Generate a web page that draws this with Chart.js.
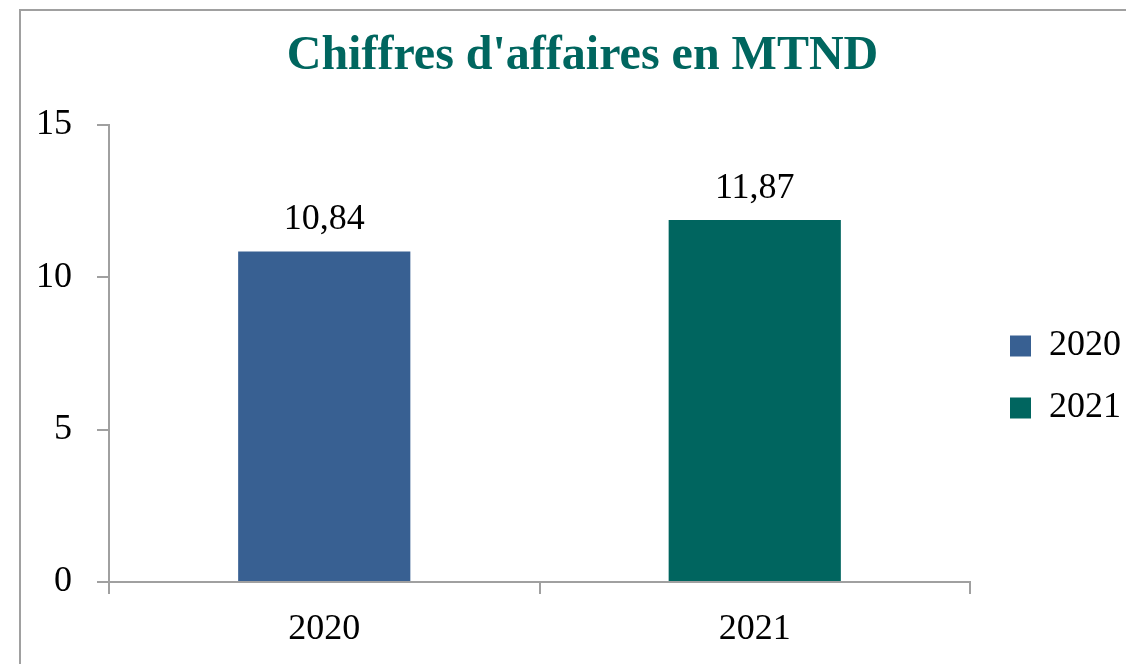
<!DOCTYPE html>
<html><head><meta charset="utf-8">
<script src="https://cdn.jsdelivr.net/npm/chart.js@4.4.1/dist/chart.umd.min.js"></script>
<style>
html,body{margin:0;padding:0;background:#fff;overflow:hidden;}
#wrap{position:relative;width:1126px;height:664px;overflow:hidden;}
#frame{position:absolute;left:19px;top:9px;width:1300px;height:900px;border:2px solid #a0a0a0;box-sizing:border-box;}
canvas{position:absolute;left:0;top:0;}
</style></head><body>
<div id="wrap"><div id="frame"></div><canvas id="c" width="1126" height="664"></canvas></div>
<script>
const titleText = "Chiffres d'affaires en MTND";
const categories = ['2020', '2021'];
const seriesLabels = ['2020', '2021'];
const seriesValues = [10.84, 11.87];
const seriesColors = ['#386092', '#00655F'];
const yTicks = [0, 5, 10, 15];

const FONT = "'Liberation Serif', 'Times New Roman', serif";
const AXIS = '#a0a0a0';
const fmt = v => v.toFixed(2).replace('.', ',');

const datasets = seriesLabels.map((lab, i) => ({
  label: lab,
  data: categories.map((c, j) => (j === i ? seriesValues[i] : null)),
  backgroundColor: seriesColors[i],
  borderWidth: 0,
  skipNull: true,
  barPercentage: 0.4,
  categoryPercentage: 1.0
}));

const valueLabels = {
  id: 'valueLabels',
  afterDatasetsDraw(chart) {
    const ctx = chart.ctx;
    ctx.save();
    ctx.font = '36px ' + FONT;
    ctx.fillStyle = '#000';
    ctx.textAlign = 'center';
    ctx.textBaseline = 'alphabetic';
    chart.data.datasets.forEach((ds, i) => {
      const meta = chart.getDatasetMeta(i);
      meta.data.forEach((el, j) => {
        const v = ds.data[j];
        if (v === null || v === undefined) return;
        ctx.fillText(fmt(v), el.x, el.y - 22);
      });
    });
    ctx.restore();
  }
};

const legendTweak = {
  id: 'legendTweak',
  afterInit(chart) {
    const lg = chart.legend;
    if (!lg) return;
    const orig = lg.fit;
    lg.fit = function () { orig.call(this); this.width = 156; };
  },
  afterLayout(chart) {
    const lg = chart.legend;
    if (!lg) return;
    lg.left += 14; lg.right += 14;
    lg.top += 45; lg.bottom += 45;
  }
};

new Chart(document.getElementById('c'), {
  type: 'bar',
  data: { labels: categories, datasets },
  options: {
    responsive: false,
    animation: false,
    devicePixelRatio: 1,
    layout: { padding: { left: 39, right: 0, top: 0, bottom: 0 } },
    plugins: {
      title: {
        display: true,
        text: titleText,
        color: '#00665F',
        font: { family: FONT, size: 48, weight: 'bold' },
        padding: { top: 28, bottom: 39 }
      },
      legend: {
        display: true,
        position: 'right',
        labels: {
          color: '#000',
          font: { family: FONT, size: 36 },
          boxWidth: 21,
          boxHeight: 21,
          padding: 26
        }
      },
      tooltip: { enabled: false }
    },
    scales: {
      x: {
        offset: true,
        grid: { display: true, drawOnChartArea: false, drawTicks: true, tickLength: 12, color: AXIS, lineWidth: 2, offset: true },
        border: { display: true, color: AXIS, width: 2 },
        ticks: { color: '#000', font: { family: FONT, size: 36 }, padding: 14, maxRotation: 0 },
        afterFit(s) { s.height = 82; }
      },
      y: {
        min: yTicks[0],
        max: yTicks[yTicks.length - 1],
        grid: { display: true, drawOnChartArea: false, drawTicks: true, tickLength: 12, color: AXIS, lineWidth: 2 },
        border: { display: true, color: AXIS, width: 2 },
        ticks: {
          stepSize: yTicks[1] - yTicks[0],
          color: '#000',
          font: { family: FONT, size: 36 },
          padding: 25
        },
        afterBuildTicks(s) { s.ticks = yTicks.map(v => ({ value: v })); },
        afterFit(s) { s.width = 70; }
      }
    }
  },
  plugins: [valueLabels, legendTweak]
});
</script>
</body></html>
